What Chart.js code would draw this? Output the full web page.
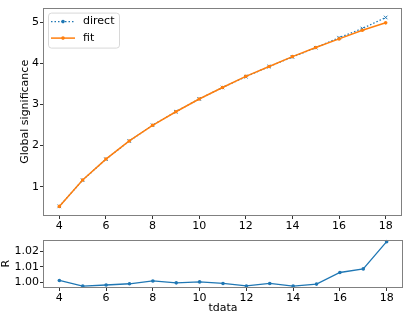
<!DOCTYPE html>
<html>
<head>
<meta charset="utf-8">
<script src="https://cdn.jsdelivr.net/npm/chart.js@4"></script>
<style>
  body { margin: 0; background: #fff; }
  #wrap { position: relative; width: 407px; height: 318px; }
  canvas { position: absolute; left: 0; }
</style>
</head>
<body>
<div id="wrap">
  <canvas id="top" width="407" height="232" style="top:0"></canvas>
  <canvas id="bot" width="407" height="86" style="top:232px"></canvas>
</div>
<script>
// --- data ------------------------------------------------------------------
const tdata = [4, 5, 6, 7, 8, 9, 10, 11, 12, 13, 14, 15, 16, 17, 18];
const direct = [0.521, 1.157, 1.667, 2.108, 2.492, 2.82, 3.131, 3.408, 3.672,
  3.918, 4.15, 4.376, 4.619, 4.842, 5.11];
const fit = [0.52, 1.16, 1.67, 2.11, 2.49, 2.82, 3.13, 3.41, 3.68, 3.92, 4.16,
  4.38, 4.59, 4.8, 4.98];
const ratio = [1.0013, 0.9977, 0.9984, 0.9992, 1.001, 0.9998, 1.0004, 0.9994,
  0.9978, 0.9994, 0.9977, 0.999, 1.0064, 1.0087, 1.0261];
const xTicks = [4, 6, 8, 10, 12, 14, 16, 18];
const sigTicks = [1, 2, 3, 4, 5];
const rTicks = [1.0, 1.01, 1.02];

// --- shared helpers ----------------------------------------------------------
const FONT = { family: "'DejaVu Sans', sans-serif", size: 11 };
const BLUE = "#1f77b4", ORANGE = "#ff7f0e";
const pts = (ys) => tdata.map((x, i) => ({ x, y: ys[i] }));

// matplotlib-style box round the axes
const frame = {
  id: "frame",
  afterDraw(chart) {
    const { ctx, chartArea: a } = chart;
    ctx.save();
    ctx.strokeStyle = "#808080";
    ctx.lineWidth = 1;
    ctx.strokeRect(Math.round(a.left) + 0.5, Math.round(a.top) + 0.5,
      Math.round(a.right - a.left) - 1, Math.round(a.bottom - a.top) - 1);
    ctx.restore();
  },
};

// legend box in the upper left corner, drawn from the dataset styles
const boxLegend = {
  id: "boxLegend",
  afterDraw(chart) {
    const { ctx, chartArea: a } = chart;
    const x0 = a.left + 5, y0 = a.top + 5;
    ctx.save();
    ctx.fillStyle = "rgba(255,255,255,0.8)";
    ctx.strokeStyle = "#d8d8d8";
    ctx.lineWidth = 1;
    ctx.beginPath();
    ctx.roundRect(x0 + 0.5, y0 + 0.5, 71, 35, 3);
    ctx.fill();
    ctx.stroke();
    ctx.font = `${FONT.size}px ${FONT.family}`;
    ctx.textBaseline = "middle";
    chart.data.datasets.forEach((ds, i) => {
      const y = y0 + 9 + i * 16.5;
      ctx.strokeStyle = ds.borderColor;
      ctx.lineWidth = ds.borderWidth;
      ctx.setLineDash(ds.borderDash || []);
      ctx.beginPath();
      ctx.moveTo(x0 + 3, y);
      ctx.lineTo(x0 + 27, y);
      ctx.stroke();
      ctx.setLineDash([]);
      ctx.fillStyle = ds.pointBackgroundColor;
      ctx.beginPath();
      ctx.arc(x0 + 15, y, 1.8, 0, Math.PI * 2);
      ctx.fill();
      ctx.fillStyle = "#000";
      ctx.fillText(ds.label, x0 + 35, y);
    });
    ctx.restore();
  },
};

function xScale(height, title) {
  return {
    type: "linear", min: 3.3, max: 18.7,
    afterBuildTicks: (s) => { s.ticks = xTicks.map((v) => ({ value: v })); },
    afterFit: (s) => { s.height = height; },
    grid: { drawOnChartArea: false, tickLength: 3, tickColor: "#333" },
    border: { display: false },
    ticks: { color: "#000", font: FONT, padding: 1, maxRotation: 0 },
    title: title
      ? { display: true, text: title, color: "#000", font: FONT, padding: { top: 0, bottom: 3 } }
      : { display: false },
  };
}

function yScale(min, max, ticks, fmt, title, titlePad) {
  return {
    type: "linear", min, max,
    afterBuildTicks: (s) => { s.ticks = ticks.map((v) => ({ value: v })); },
    afterFit: (s) => { s.width = 43; },
    grid: { drawOnChartArea: false, tickLength: 3, tickColor: "#333" },
    border: { display: false },
    ticks: { color: "#000", font: FONT, padding: 1, callback: fmt },
    title: { display: true, text: title, color: "#000", font: FONT,
      padding: { top: titlePad, bottom: 0 } },
  };
}

const common = {
  responsive: false, animation: false, devicePixelRatio: 1,
  plugins: { legend: { display: false }, tooltip: { enabled: false } },
};

// --- upper panel: significance -------------------------------------------------
new Chart(document.getElementById("top"), {
  type: "line",
  data: {
    datasets: [
      { label: "direct", data: pts(direct), borderColor: BLUE, borderWidth: 1.3,
        borderDash: [1.5, 2], pointStyle: "crossRot", pointRadius: 2.5,
        pointBorderColor: BLUE, pointBackgroundColor: BLUE, pointBorderWidth: 1,
        order: 2 },
      { label: "fit", data: pts(fit), borderColor: ORANGE, borderWidth: 1.5,
        pointStyle: "circle", pointRadius: 1.8, pointBorderWidth: 0,
        pointBackgroundColor: ORANGE, pointBorderColor: ORANGE, order: 1 },
    ],
  },
  options: {
    ...common,
    layout: { padding: { top: 3, right: 4, left: 0, bottom: 0 } },
    scales: {
      x: xScale(16, null),
      y: yScale(0.287, 5.35, sigTicks, (v) => String(v), "Global significance", 19),
    },
  },
  plugins: [frame, boxLegend],
});

// --- lower panel: ratio R ------------------------------------------------------
new Chart(document.getElementById("bot"), {
  type: "line",
  data: {
    datasets: [
      { label: "R", data: pts(ratio), borderColor: BLUE, borderWidth: 1.3,
        pointStyle: "circle", pointRadius: 1.8, pointBorderWidth: 0,
        pointBackgroundColor: BLUE },
    ],
  },
  options: {
    ...common,
    layout: { padding: { top: 3, right: 4, left: 0, bottom: 0 } },
    scales: {
      x: xScale(30, "tdata"),
      y: yScale(0.9965, 1.0274, rTicks, (v) => v.toFixed(2), "R", 0),
    },
  },
  plugins: [frame],
});
</script>
</body>
</html>
